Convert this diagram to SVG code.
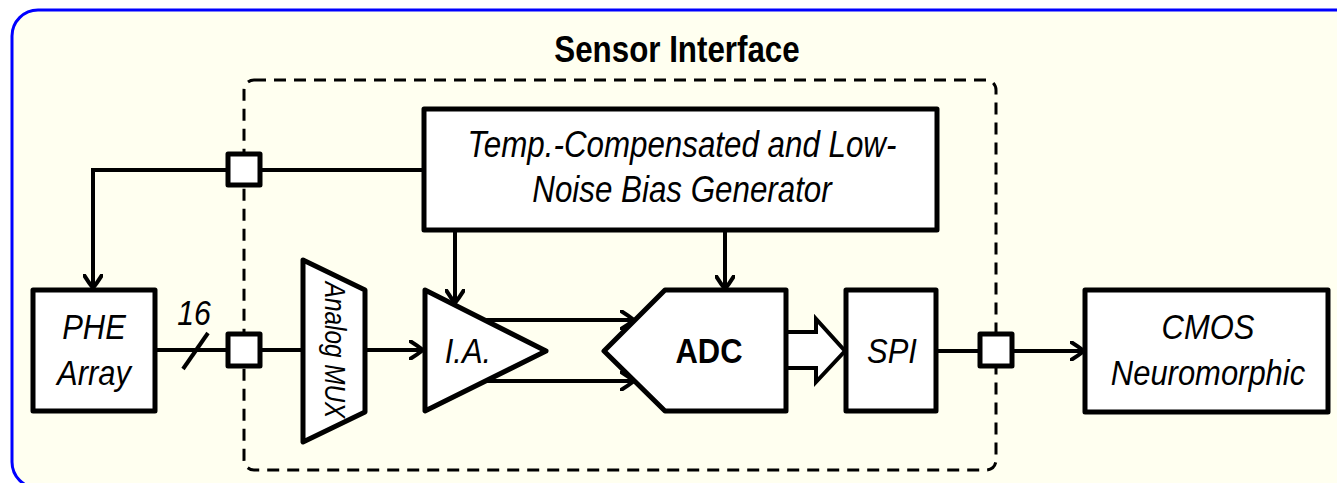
<svg xmlns="http://www.w3.org/2000/svg" width="1337" height="483" viewBox="0 0 1337 483">
<style>
.box{fill:#fff;stroke:#000;stroke-width:5;stroke-linejoin:round}
.port{fill:#fff;stroke:#000;stroke-width:5;stroke-linejoin:round}
.wire{fill:none;stroke:#000;stroke-width:4}
.lbl{font-family:"Liberation Sans",Arial,sans-serif;font-style:italic;font-size:36px;fill:#000;text-anchor:middle}
.bold{font-family:"Liberation Sans",Arial,sans-serif;font-weight:bold;font-size:36px;fill:#000;text-anchor:middle}
</style>
<defs>
<marker id="arr" viewBox="0 0 16 20" refX="14" refY="10" markerWidth="16" markerHeight="20" markerUnits="userSpaceOnUse" orient="auto">
<path d="M1,1 Q9,6 14,10 Q9,14 1,19" fill="none" stroke="#000" stroke-width="4" stroke-linecap="round" stroke-linejoin="round"/>
</marker>
</defs>
<rect x="0" y="0" width="1337" height="483" fill="#fff"/>
<rect id="frame" x="12" y="10" width="1352" height="478" rx="26" fill="#FFFFF0" stroke="#0000FF" stroke-width="3"/>
<g id="sensor-interface">
<rect x="244" y="80" width="752" height="390" rx="10" fill="none" stroke="#000" stroke-width="3" stroke-dasharray="12 8"/>
<text class="bold" transform="translate(677,62) scale(0.87,1)">Sensor Interface</text>
</g>
<g id="connectors">
<path class="wire" d="M424,170 H93 V288" marker-end="url(#arr)"/>
<path class="wire" d="M155,350 H303"/>
<path class="wire" d="M183,369 L208,333"/>
<text class="lbl" transform="translate(194,325) scale(0.84,1)">16</text>
<path class="wire" d="M365,350 H423" marker-end="url(#arr)"/>
<path class="wire" d="M485,320 H634" marker-end="url(#arr)"/>
<path class="wire" d="M485,381 H634" marker-end="url(#arr)"/>
<path class="wire" d="M455,230 V303" marker-end="url(#arr)"/>
<path class="wire" d="M725,230 V289" marker-end="url(#arr)"/>
<polygon points="786,332 816,332 816,319 845,351 816,382 816,368 786,368" fill="#fff" stroke="#000" stroke-width="4" stroke-linejoin="miter"/>
<path class="wire" d="M936,351 H1084" marker-end="url(#arr)"/>
</g>
<g id="ports">
<rect class="port" x="228" y="154" width="32" height="31"/>
<rect class="port" x="228" y="334" width="32" height="32"/>
<rect class="port" x="980" y="334" width="32" height="32"/>
</g>
<g id="bias">
<rect class="box" x="424" y="109" width="513" height="121"/>
<text class="lbl" transform="translate(682,157) scale(0.87,1)">Temp.-Compensated and Low-</text>
<text class="lbl" transform="translate(682,202) scale(0.87,1)">Noise Bias Generator</text>
</g>
<g id="phe">
<rect class="box" x="33" y="290" width="122" height="121"/>
<text class="lbl" transform="translate(94,339) scale(0.86,1)">PHE</text>
<text class="lbl" transform="translate(94,385) scale(0.86,1)">Array</text>
</g>
<g id="mux">
<polygon class="box" points="303,260 365,290 365,412 303,442"/>
<text class="lbl" transform="translate(325,350) rotate(90) scale(0.84,1)" style="font-size:29px">Analog MUX</text>
</g>
<g id="ia">
<polygon class="box" points="425,290 546,351 425,411"/>
<text class="lbl" transform="translate(468,363) scale(0.86,1)">I.A.</text>
</g>
<g id="adc">
<polygon class="box" points="604,351 665,290 786,290 786,411 665,411"/>
<text class="bold" transform="translate(709,363) scale(0.86,1)">ADC</text>
</g>
<g id="spi">
<rect class="box" x="846" y="290" width="90" height="121"/>
<text class="lbl" transform="translate(892,363) scale(0.86,1)">SPI</text>
</g>
<g id="cmos">
<rect class="box" x="1085" y="290" width="243" height="122"/>
<text class="lbl" transform="translate(1208,339) scale(0.86,1)">CMOS</text>
<text class="lbl" transform="translate(1208,385) scale(0.86,1)">Neuromorphic</text>
</g>
</svg>
